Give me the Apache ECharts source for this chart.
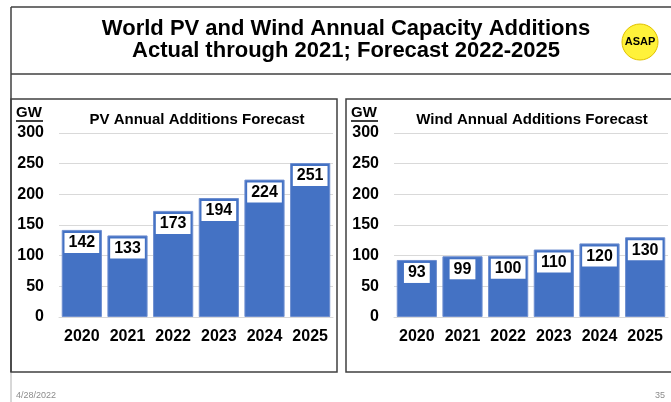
<!DOCTYPE html>
<html>
<head>
<meta charset="utf-8">
<script src="https://cdn.jsdelivr.net/npm/echarts@6/dist/echarts.min.js"></script>
<style>
	html, body { margin: 0; padding: 0; background: #fff; }
	#chartBox { width: 671px; height: 402px; }
</style>
</head>
<body>
<div id="chartBox"></div>
<script>
// 数据
const years = ['2020', '2021', '2022', '2023', '2024', '2025'];
const pvValues = [142, 133, 173, 194, 224, 251];
const windValues = [93, 99, 100, 110, 120, 130];
const yMin = 0, yMax = 300, yStep = 50;

const FONT = 'Liberation Sans, Arial, sans-serif';
const BAR = '#4472C4';
const FRAME = '#404040';

function yAxisOf(gridIndex) {
	return {
		type: 'value', gridIndex: gridIndex,
		min: yMin, max: yMax, interval: yStep,
		axisLabel: { color: '#000', fontWeight: 'bold', fontSize: 16, fontFamily: FONT, margin: 15 },
		axisLine: { show: false },
		axisTick: { show: false },
		splitLine: { lineStyle: { color: '#d9d9d9', width: 1 } }
	};
}
function xAxisOf(gridIndex) {
	return {
		type: 'category', gridIndex: gridIndex, data: years,
		axisLabel: { color: '#000', fontWeight: 'bold', fontSize: 16, fontFamily: FONT, margin: 12, interval: 0 },
		axisLine: { lineStyle: { color: '#d9d9d9' } },
		axisTick: { show: false }
	};
}
function barsOf(idx, values) {
	return {
		type: 'bar', xAxisIndex: idx, yAxisIndex: idx, data: values,
		barCategoryGap: '12%',
		itemStyle: { color: BAR, borderColor: '#6f8fd0', borderWidth: 1 },
		label: {
			show: true, position: 'insideTop', distance: 3,
			backgroundColor: '#fff', padding: [2, 4, 2, 4],
			color: '#000', fontWeight: 'bold', fontSize: 16, fontFamily: FONT
		}
	};
}
function gwLabel(x) {
	return {
		type: 'group', children: [
			{ type: 'text', left: x, top: 105, style: { text: 'GW', fill: '#000', font: 'bold 15px ' + FONT } },
			{ type: 'line', shape: { x1: x, y1: 121, x2: x + 27, y2: 121 }, style: { stroke: '#000', lineWidth: 1.5 } }
		]
	};
}

let myChart = echarts.init(document.getElementById('chartBox'));
myChart.setOption({
	animation: false,
	title: [
		{
			text: 'World PV and Wind Annual Capacity Additions\nActual through 2021; Forecast 2022-2025',
			left: 341, top: 13, textAlign: 'center',
			textStyle: { color: '#000', fontWeight: 'bold', fontSize: 22, fontFamily: FONT, lineHeight: 22 }
		},
		{
			text: 'PV Annual Additions Forecast', left: 192, top: 107, textAlign: 'center',
			textStyle: { color: '#000', fontWeight: 'bold', fontSize: 15, fontFamily: FONT }
		},
		{
			text: 'Wind Annual Additions Forecast', left: 527, top: 107, textAlign: 'center',
			textStyle: { color: '#000', fontWeight: 'bold', fontSize: 15, fontFamily: FONT }
		}
	],
	grid: [
		{ left: 59, top: 133, width: 274, height: 184 },
		{ left: 394, top: 133, width: 274, height: 184 }
	],
	xAxis: [xAxisOf(0), xAxisOf(1)],
	yAxis: [yAxisOf(0), yAxisOf(1)],
	series: [barsOf(0, pvValues), barsOf(1, windValues)],
	graphic: [
		// 外框
		{ type: 'line', shape: { x1: 11, y1: 7, x2: 671, y2: 7 }, style: { stroke: FRAME, lineWidth: 1.5 } },
		{ type: 'line', shape: { x1: 11, y1: 7, x2: 11, y2: 372 }, style: { stroke: FRAME, lineWidth: 1.5 } },
		{ type: 'line', shape: { x1: 11, y1: 372, x2: 11, y2: 402 }, style: { stroke: '#b0b0b0', lineWidth: 1 } },
		{ type: 'line', shape: { x1: 11, y1: 74, x2: 671, y2: 74 }, style: { stroke: FRAME, lineWidth: 1.5 } },
		{ type: 'rect', shape: { x: 11, y: 99, width: 326, height: 273 }, style: { fill: 'none', stroke: FRAME, lineWidth: 1.5 } },
		{ type: 'rect', shape: { x: 346, y: 99, width: 340, height: 273 }, style: { fill: 'none', stroke: FRAME, lineWidth: 1.5 } },
		// ASAP
		{ type: 'circle', shape: { cx: 640, cy: 42, r: 18 }, style: { fill: '#fff23a', stroke: '#e0c000', lineWidth: 1 } },
		{ type: 'text', x: 640, y: 42, style: { text: 'ASAP', fill: '#000', font: 'bold 11px ' + FONT, align: 'center', verticalAlign: 'middle' } },
		gwLabel(16),
		gwLabel(351),
		{ type: 'text', left: 16, top: 391, style: { text: '4/28/2022', fill: '#8c8c8c', font: '9px ' + FONT } },
		{ type: 'text', left: 655, top: 391, style: { text: '35', fill: '#8c8c8c', font: '9px ' + FONT } }
	]
});
</script>
</body>
</html>
